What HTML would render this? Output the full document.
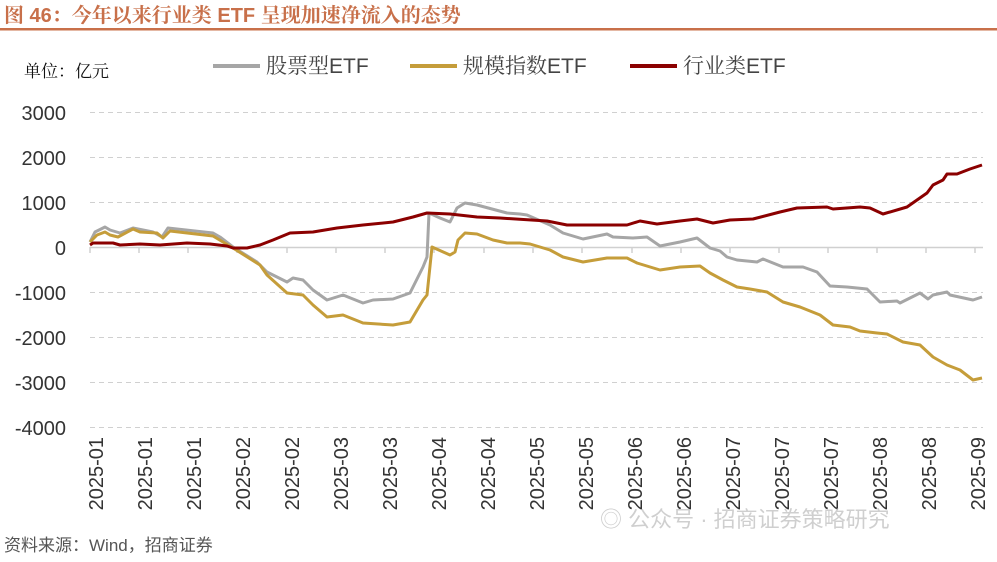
<!DOCTYPE html>
<html><head><meta charset="utf-8"><style>
body{margin:0;background:#fff;width:997px;height:557px;overflow:hidden;font-family:"Liberation Sans","Noto Sans CJK SC",sans-serif;}
</style></head><body>
<svg width="997" height="557" xmlns="http://www.w3.org/2000/svg" style="font-family:'Liberation Sans','Noto Sans CJK SC',sans-serif">
<text x="4" y="22" font-size="20" font-weight="bold" fill="#c8704a" style="font-family:'Liberation Sans','Noto Serif CJK SC',serif">图 46：今年以来行业类 ETF 呈现加速净流入的态势</text>
<rect x="0" y="28" width="997" height="2.5" fill="#c8704a"/>
<text x="24" y="77" font-size="17" fill="#111" style="font-family:'Liberation Serif','Noto Serif CJK SC',serif">单位：亿元</text>
<g style="font-family:'Liberation Sans','Noto Serif CJK SC',serif" font-size="21" fill="#444">
<line x1="213" y1="66" x2="260" y2="66" stroke="#a6a6a6" stroke-width="4"/>
<text x="266" y="73">股票型ETF</text>
<line x1="410" y1="66" x2="457" y2="66" stroke="#c59d3a" stroke-width="4"/>
<text x="463" y="73">规模指数ETF</text>
<line x1="630" y1="66" x2="677" y2="66" stroke="#8b0000" stroke-width="4"/>
<text x="683" y="73">行业类ETF</text>
</g>
<g stroke="#d0d0d0" stroke-dasharray="5,4" stroke-width="1">
<line x1="90" y1="112.5" x2="983" y2="112.5"/><line x1="90" y1="157.5" x2="983" y2="157.5"/><line x1="90" y1="202.5" x2="983" y2="202.5"/>
<line x1="90" y1="292.5" x2="983" y2="292.5"/><line x1="90" y1="337.5" x2="983" y2="337.5"/><line x1="90" y1="382.5" x2="983" y2="382.5"/><line x1="90" y1="427.5" x2="983" y2="427.5"/>
</g>
<line x1="90" y1="247.5" x2="983" y2="247.5" stroke="#d0d0d0" stroke-width="1.5"/>
<g stroke="#d0d0d0" stroke-width="1.5">
<line x1="90" y1="247" x2="90" y2="253"/><line x1="139" y1="247" x2="139" y2="253"/><line x1="188" y1="247" x2="188" y2="253"/><line x1="237" y1="247" x2="237" y2="253"/><line x1="287" y1="247" x2="287" y2="253"/><line x1="336" y1="247" x2="336" y2="253"/><line x1="385" y1="247" x2="385" y2="253"/><line x1="434" y1="247" x2="434" y2="253"/><line x1="484" y1="247" x2="484" y2="253"/><line x1="533" y1="247" x2="533" y2="253"/><line x1="582" y1="247" x2="582" y2="253"/><line x1="632" y1="247" x2="632" y2="253"/><line x1="681" y1="247" x2="681" y2="253"/><line x1="730" y1="247" x2="730" y2="253"/><line x1="779" y1="247" x2="779" y2="253"/><line x1="828" y1="247" x2="828" y2="253"/><line x1="877" y1="247" x2="877" y2="253"/><line x1="926" y1="247" x2="926" y2="253"/><line x1="975" y1="247" x2="975" y2="253"/>
</g>
<g font-size="20" fill="#333" text-anchor="end">
<text x="66" y="120">3000</text><text x="66" y="165">2000</text><text x="66" y="210">1000</text><text x="66" y="255">0</text>
<text x="66" y="300">-1000</text><text x="66" y="345">-2000</text><text x="66" y="390">-3000</text><text x="66" y="435">-4000</text>
</g>
<g font-size="20" fill="#333" text-anchor="end">
<text transform="translate(103,437) rotate(-90)">2025-01</text>
<text transform="translate(152,437) rotate(-90)">2025-01</text>
<text transform="translate(201,437) rotate(-90)">2025-01</text>
<text transform="translate(250,437) rotate(-90)">2025-02</text>
<text transform="translate(299,437) rotate(-90)">2025-02</text>
<text transform="translate(348,437) rotate(-90)">2025-03</text>
<text transform="translate(397,437) rotate(-90)">2025-03</text>
<text transform="translate(446,437) rotate(-90)">2025-04</text>
<text transform="translate(495,437) rotate(-90)">2025-04</text>
<text transform="translate(544,437) rotate(-90)">2025-05</text>
<text transform="translate(593,437) rotate(-90)">2025-05</text>
<text transform="translate(642,437) rotate(-90)">2025-06</text>
<text transform="translate(691,437) rotate(-90)">2025-06</text>
<text transform="translate(740,437) rotate(-90)">2025-07</text>
<text transform="translate(789,437) rotate(-90)">2025-07</text>
<text transform="translate(838,437) rotate(-90)">2025-07</text>
<text transform="translate(887,437) rotate(-90)">2025-08</text>
<text transform="translate(936,437) rotate(-90)">2025-08</text>
<text transform="translate(985,437) rotate(-90)">2025-09</text>
</g>
<g fill="none" stroke-width="3" stroke-linejoin="round">
<polyline stroke="#a6a6a6" points="90,242 95,232 105,227 110,230 120,233 133,228 153,232 162,237 168,228 213,233 220,237 233,247 257,262 267,272 287,282 293,278 303,280 313,290 327,300 343,295 363,303 373,300 393,299 410,293 423,267 427,257 429,213 440,218 450,222 457,208 465,203 477,205 507,213 520,214 527,215 550,225 563,233 583,239 607,234 613,237 633,238 647,237 660,246 680,242 697,238 710,248 720,251 727,257 737,260 757,262 763,259 783,267 803,267 817,272 830,286 847,287 867,289 880,302 897,301 900,303 920,293 928,299 933,295 947,292 950,295 973,300 982,297"/>
<polyline stroke="#c59d3a" points="90,242 97,235 105,232 110,235 118,237 133,229 140,232 157,233 163,238 170,231 213,236 233,248 260,265 267,275 287,293 303,295 313,305 327,317 343,315 363,323 393,325 410,322 423,300 427,295 432,247 450,255 455,252 458,240 465,233 477,234 493,240 507,243 520,243 530,244 550,250 563,257 583,262 607,258 627,258 637,263 660,270 680,267 700,266 710,273 723,280 737,287 750,289 767,292 783,302 800,307 820,315 833,325 850,327 860,331 877,333 887,334 903,342 920,345 933,357 947,365 960,370 973,380 982,378"/>
<polyline stroke="#8b0000" points="90,245 93,243 113,243 120,245 140,244 160,245 187,243 210,244 227,246 233,248 247,248 260,245 273,240 290,233 313,232 337,228 363,225 393,222 413,217 427,213 450,214 477,217 500,218 547,221 567,225 627,225 640,221 657,224 680,221 697,219 713,223 730,220 753,219 780,212 797,208 827,207 833,209 860,207 870,208 883,214 907,207 927,193 933,185 943,180 947,174 957,174 970,169 982,165"/>
</g>
<text x="4" y="551" font-size="17" fill="#555">资料来源：Wind，招商证券</text>
<text x="600" y="527" font-size="22" fill="#bbb" opacity="0.7">◎ 公众号 · 招商证券策略研究</text>
</svg>
</body></html>
